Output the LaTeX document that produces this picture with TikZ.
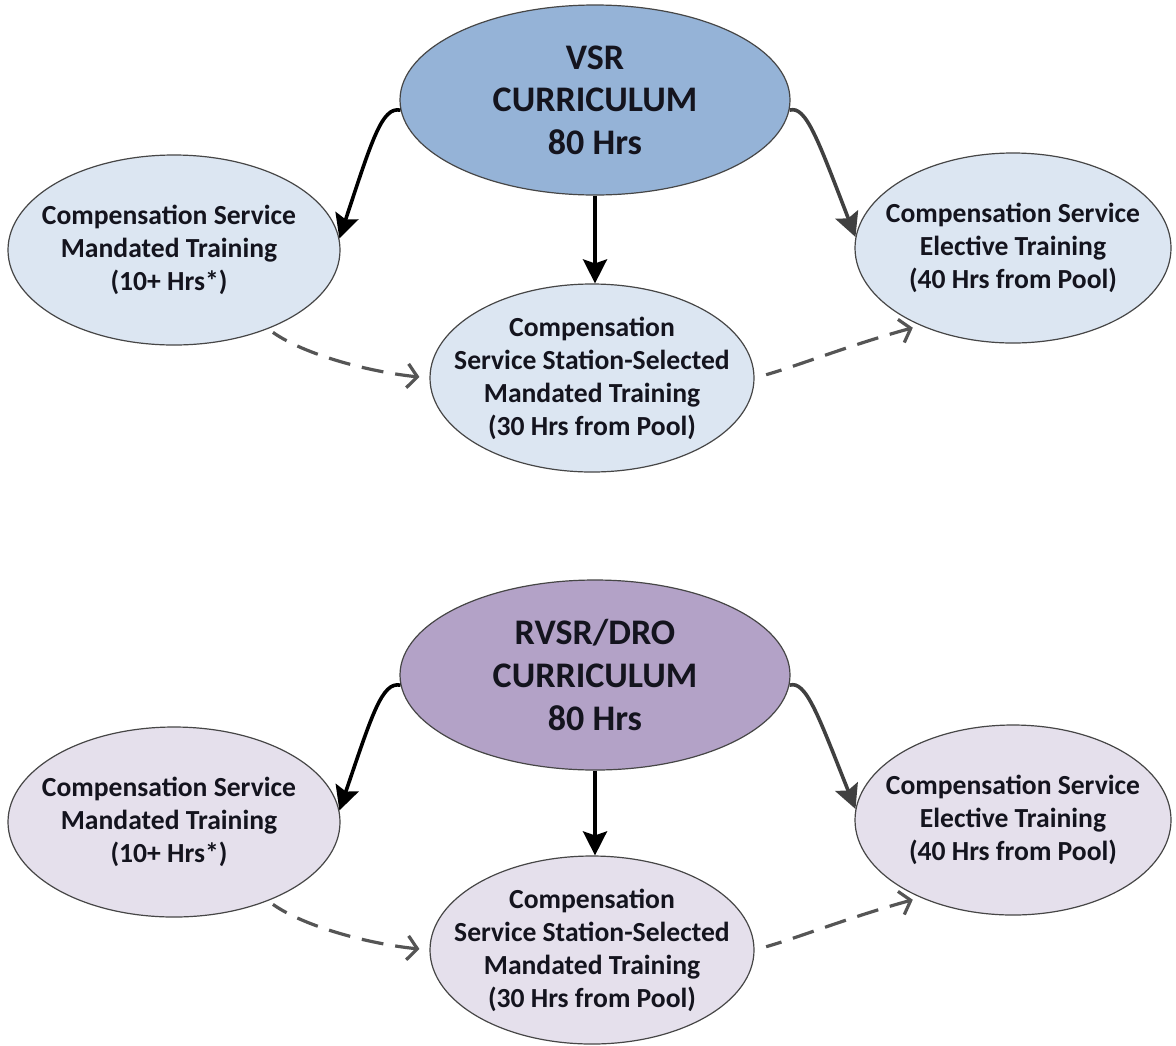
\documentclass[tikz,border=0pt]{standalone}
\usepackage{fontspec}
\setmainfont{Carlito}
\usetikzlibrary{shapes.geometric,arrows.meta}
\definecolor{topblue}{RGB}{149,179,215}
\definecolor{lightblue}{RGB}{220,230,242}
\definecolor{toppurple}{RGB}{179,162,199}
\definecolor{lightpurple}{RGB}{229,224,236}
\definecolor{edgegray}{RGB}{70,70,70}
\definecolor{dashgray}{RGB}{85,85,85}
\definecolor{arrowgray}{RGB}{64,64,64}
\definecolor{txt}{RGB}{20,20,30}
\begin{document}
\begin{tikzpicture}[x=0.5pt,y=-0.5pt,
 base/.style={ellipse,draw=edgegray,line width=0.6pt,inner sep=0pt},
 bigell/.style={base,minimum width=195pt,minimum height=95pt},
 subell/.style={base,minimum width=166pt,minimum height=95pt},
 midell/.style={base,minimum width=162pt,minimum height=94pt},
 rightell/.style={base,minimum width=158pt,minimum height=95pt},
 smalltext/.style={inner sep=0pt,align=center,text=txt,font=\bfseries\fontsize{13.8}{16.5}\selectfont},
 bigtext/.style={inner sep=0pt,align=center,text=txt,font=\bfseries\fontsize{18}{21.3}\selectfont},
 solidarrow/.style={line width=1.8pt,-{Stealth[length=12pt,width=12pt,inset=2pt]}},
 dasharrow/.style={draw=dashgray,line width=1.6pt,dash pattern=on 11pt off 6pt,dash phase=3pt,
   -{Straight Barb[length=5pt,width=12pt,line width=1.6pt]}},
]
\useasboundingbox (0,0) rectangle (1176,1045);
\fill[white] (0,0) rectangle (1176,1045);

% ---------- top diagram ----------
\node[bigell,fill=topblue] (vsr) at (595,100) {};
\node[bigtext] (vsrt) at (vsr) {VSR\\CURRICULUM\\80 Hrs};
\node[subell,fill=lightblue] (lm) at (174,250) {};
\node[smalltext] (lmt) at (169,250) {Compensation Service\\Mandated Training\\(10+ Hrs*)};
\node[midell,fill=lightblue] (cm) at (592,378) {};
\node[smalltext] (cmt) at (cm) {Compensation\\Service Station-Selected\\Mandated Training\\(30 Hrs from Pool)};
\node[rightell,fill=lightblue] (rm) at (1013,248) {};
\node[smalltext] (rmt) at (rm) {Compensation Service\\Elective Training\\(40 Hrs from Pool)};

\draw[solidarrow,black] (vsr.183) .. controls (382,106) and (372,140) .. (lm.4);
\draw[solidarrow,black] (vsr.south) -- (vsr.south |- cm.north);
\draw[solidarrow,arrowgray] (vsr.-3) .. controls (806,105) and (818,140) .. (rm.176);
\draw[dasharrow,shorten <=3pt,shorten >=5pt] (lm.-40) .. controls (305,355) and (370,372) .. (cm.west);
\draw[dasharrow,shorten <=6pt,shorten >=4pt] (cm.east) .. controls (800,365) and (850,345) .. (rm.-140);

% ---------- bottom diagram ----------
\node[bigell,fill=toppurple] (rvsr) at (595,675) {};
\node[bigtext] (rvsrt) at (rvsr) {RVSR/DRO\\CURRICULUM\\80 Hrs};
\node[subell,fill=lightpurple] (lm2) at (174,822) {};
\node[smalltext] (lm2t) at (169,822) {Compensation Service\\Mandated Training\\(10+ Hrs*)};
\node[midell,fill=lightpurple] (cm2) at (592,950) {};
\node[smalltext] (cm2t) at (cm2) {Compensation\\Service Station-Selected\\Mandated Training\\(30 Hrs from Pool)};
\node[rightell,fill=lightpurple] (rm2) at (1013,820) {};
\node[smalltext] (rm2t) at (rm2) {Compensation Service\\Elective Training\\(40 Hrs from Pool)};

\draw[solidarrow,black] (rvsr.183) .. controls (382,681) and (372,715) .. (lm2.4);
\draw[solidarrow,black] (rvsr.south) -- (rvsr.south |- cm2.north);
\draw[solidarrow,arrowgray] (rvsr.-3) .. controls (806,680) and (818,715) .. (rm2.176);
\draw[dasharrow,shorten <=3pt,shorten >=5pt] (lm2.-40) .. controls (305,927) and (370,944) .. (cm2.west);
\draw[dasharrow,shorten <=6pt,shorten >=4pt] (cm2.east) .. controls (800,937) and (850,917) .. (rm2.-140);
\end{tikzpicture}
\end{document}
